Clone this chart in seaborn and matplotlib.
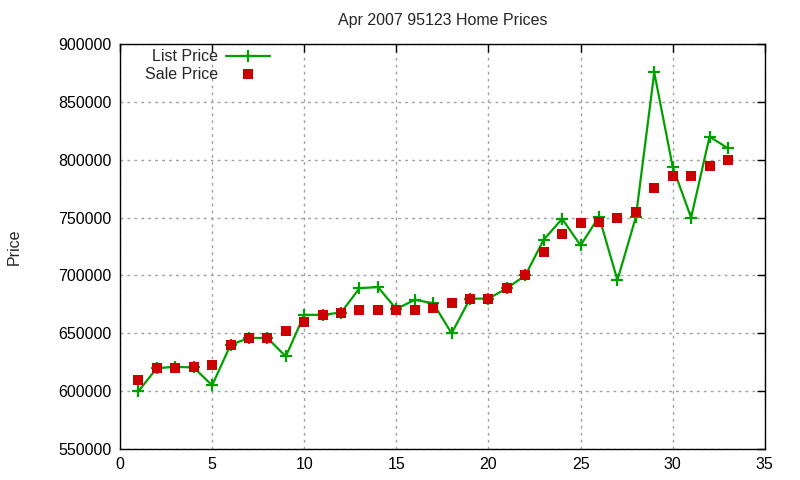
import pandas as pd
import matplotlib
matplotlib.use("Agg")
import matplotlib.pyplot as plt
import seaborn as sns

# values
listing = list(range(1, 34))
list_price = [600000, 619900, 621000, 620500, 605000, 640000, 646000, 646000, 630000, 666000,
              666000, 668000, 689000, 690000, 671000, 679000, 676000, 650000, 680000, 680000,
              689000, 700000, 731000, 749000, 726000, 751000, 696000, 750500, 875500, 794000,
              750000, 820000, 810000]
sale_price = [610000, 619900, 620000, 620500, 622500, 640000, 646000, 646000, 652000, 660000,
              666000, 668000, 670000, 670000, 670000, 670000, 672000, 676000, 680000, 680000,
              689000, 700000, 720000, 736000, 745000, 746000, 750000, 755000, 775500, 786000,
              786000, 795000, 800000]

df = pd.DataFrame({'Listing': listing, 'List Price': list_price, 'Sale Price': sale_price})

sns.set_style("white")
plt.rcParams['font.family'] = ['Liberation Sans', 'DejaVu Sans']

fig = plt.figure(figsize=(8, 4.8), dpi=100)
ax = fig.add_axes([0.15, 0.0646, 0.806, 0.8434])

sns.lineplot(data=df, x='Listing', y='List Price', ax=ax, color='#00a000', linewidth=1.6,
             marker='+', markersize=9, markeredgewidth=1.6, markeredgecolor='#00a000',
             label='List Price')
sns.scatterplot(data=df, x='Listing', y='Sale Price', ax=ax, color='#cc0000', marker='s',
                s=45, linewidth=0, label='Sale Price', zorder=3)

ax.set_xlim(0, 35)
ax.set_ylim(550000, 900000)
ax.set_xticks(range(0, 36, 5))
ax.set_yticks(range(550000, 900001, 50000))
ax.ticklabel_format(style='plain', axis='y')
ax.tick_params(direction='in', top=True, right=True, length=6, width=1, labelsize=11.5,
               colors='black', pad=6)
ax.grid(True, linestyle=(0, (2, 3)), color='#a0a0a0', linewidth=1)
for s in ax.spines.values():
    s.set_color('black')
    s.set_linewidth(1)

ax.set_title('Apr 2007 95123 Home Prices', fontsize=11.5, pad=14)
ax.set_xlabel('')
ax.set_ylabel('Price', fontsize=11.5)
ax.yaxis.set_label_coords(-0.153, 0.5)

ax.legend(loc='upper left', bbox_to_anchor=(0.022, 1.015), frameon=False, markerfirst=False,
          fontsize=11.5, handlelength=2.7, borderaxespad=0.3, labelspacing=0.15,
          handletextpad=0.5)

plt.savefig('out.png', dpi=100)
